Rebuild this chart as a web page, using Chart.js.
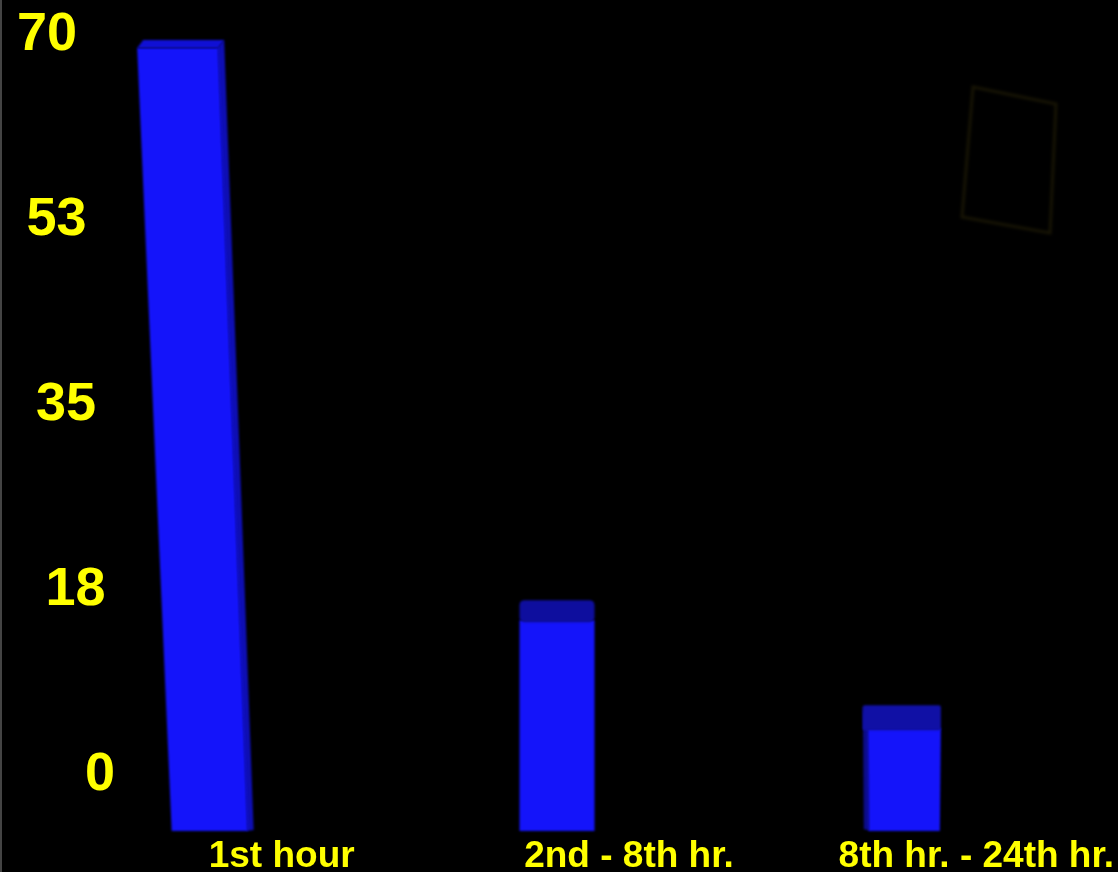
<!DOCTYPE html>
<html>
<head>
<meta charset="utf-8">
<script src="https://cdn.jsdelivr.net/npm/chart.js@4/dist/chart.umd.min.js"></script>
<style>
  html, body { margin: 0; padding: 0; background: #000; overflow: hidden; }
  #wrap { width: 1118px; height: 872px; position: relative; background: #000; }
  canvas { display: block; }
</style>
</head>
<body>
<div id="wrap"><canvas id="chart" width="1118" height="872"></canvas></div>
<script>
// ---- data ----
const categories = ['1st hour', '2nd - 8th hr.', '8th hr. - 24th hr.'];
const values = [70, 20, 10];
const tickValues = [0, 17.5, 35, 52.5, 70];
const tickLabels = ['0', '18', '35', '53', '70'];

// ---- look ----
const YELLOW = '#FFFF00';
const FONT_FAMILY = '"Liberation Sans", Arial, Helvetica, sans-serif';
const FRONT = 'rgb(20,20,250)';
// per-bar perspective: lean = shift of the top relative to the base,
// spread = extra width at the top, wAdj = width tweak of the front face,
// depth = height of the top face, drop = share of it below the value line,
// back = sideways shift of the back edge
const perspective = [
  { lean: -32, spread: 5, wAdj: 0,  depth: 8,  drop: 0.5,  back: 6,  top: 'rgb(16,16,212)', side: 'rgb(14,14,180)', round: 0 },
  { lean: 0,   spread: 0, wAdj: -1, depth: 20, drop: 0.7,  back: 0,  top: 'rgb(14,14,158)', side: 'rgb(12,12,150)', round: 5 },
  { lean: 0,   spread: 2, wAdj: -5, depth: 23, drop: 0.42, back: -5, top: 'rgb(16,16,165)', side: 'rgb(12,12,140)', round: 2 }
];

function poly(ctx, pts, fill) {
  ctx.beginPath();
  ctx.moveTo(pts[0][0], pts[0][1]);
  for (let i = 1; i < pts.length; i++) ctx.lineTo(pts[i][0], pts[i][1]);
  ctx.closePath();
  ctx.fillStyle = fill;
  ctx.fill();
}

// draws the bars as blocks with a top face and a visible side
const blockBars = {
  id: 'blockBars',
  beforeDatasetDraw(chart, args) {
    const ctx = chart.ctx;
    const meta = args.meta;
    ctx.save();
    ctx.filter = 'blur(0.8px)';
    meta.data.forEach((el, i) => {
      const p = perspective[i];
      const { x, y, base, width } = el.getProps(['x', 'y', 'base', 'width'], true);
      const hb = (width + p.wAdj) / 2;
      const ht = hb + p.spread / 2;
      const xb = x;
      const xt = x + p.lean;
      const frontTop = y + p.depth * p.drop;
      const backTop = frontTop - p.depth;

      // side face
      if (p.back > 0) {
        poly(ctx, [[xt + ht - 1, frontTop], [xt + ht + p.back, backTop], [xb + hb + p.back, base - 1], [xb + hb - 1, base]], p.side);
      } else if (p.back < 0) {
        poly(ctx, [[xt - ht + p.back, backTop], [xt - ht + 1, frontTop], [xb - hb + 1, base], [xb - hb + p.back, base - 2]], p.side);
      }
      // front face
      poly(ctx, [[xt - ht, frontTop], [xt + ht, frontTop], [xb + hb, base], [xb - hb, base]], FRONT);
      // top face
      if (p.round) {
        ctx.beginPath();
        ctx.roundRect(xt - ht + Math.min(p.back, 0), backTop, 2 * ht + Math.abs(p.back), p.depth + 2, p.round);
        ctx.fillStyle = p.top;
        ctx.fill();
      } else {
        poly(ctx, [[xt - ht + p.back, backTop], [xt + ht + p.back, backTop], [xt + ht, frontTop], [xt - ht, frontTop]], p.top);
      }
    });
    ctx.restore();
    return false;
  }
};

// value labels on a slanted left axis, placed with the 'yl' scale
const slantAxis = {
  id: 'slantAxis',
  beforeDraw(chart) {
    // faint outline in the top right of the backdrop
    const ctx = chart.ctx;
    ctx.save();
    ctx.filter = 'blur(1.5px)';
    ctx.strokeStyle = 'rgba(46,39,7,0.5)';
    ctx.lineWidth = 3;
    ctx.beginPath();
    ctx.moveTo(973, 87);
    ctx.lineTo(1056, 104);
    ctx.lineTo(1050, 233);
    ctx.lineTo(962, 217);
    ctx.closePath();
    ctx.stroke();
    ctx.restore();
  },
  afterDraw(chart) {
    const ctx = chart.ctx;
    const yl = chart.scales.yl;
    ctx.save();
    // thin frame line on the left edge
    ctx.fillStyle = '#444';
    ctx.fillRect(0, 0, 2, chart.height);
    ctx.font = 'bold 54px ' + FONT_FAMILY;
    ctx.fillStyle = YELLOW;
    ctx.textAlign = 'right';
    ctx.textBaseline = 'middle';
    const yZero = yl.getPixelForValue(0);
    tickValues.forEach((v, i) => {
      const py = yl.getPixelForValue(v);
      const px = 115 - (yZero - py) * 0.0514;
      ctx.fillText(tickLabels[i], px, py);
    });
    ctx.restore();
  }
};

new Chart(document.getElementById('chart'), {
  type: 'bar',
  data: {
    labels: categories,
    datasets: [{
      data: values,
      backgroundColor: FRONT,
      barThickness: 76,
      yAxisID: 'y'
    }]
  },
  options: {
    responsive: false,
    animation: false,
    devicePixelRatio: 1,
    layout: { padding: { left: 36, right: 40, top: 44, bottom: 0 } },
    plugins: {
      legend: { display: false },
      tooltip: { enabled: false }
    },
    scales: {
      x: {
        type: 'category',
        offset: true,
        grid: { display: false, drawTicks: false },
        border: { display: false },
        afterFit(scale) { scale.height = 41; },
        ticks: {
          color: YELLOW,
          font: { family: FONT_FAMILY, weight: 'bold', size: 37, lineHeight: 1 },
          labelOffset: 72,
          padding: 7,
          maxRotation: 0,
          autoSkip: false
        }
      },
      y: {
        display: false,
        min: 0,
        max: 70
      },
      yl: {
        type: 'linear',
        display: false,
        position: 'left',
        min: -5.30,
        max: 69.15
      }
    }
  },
  plugins: [blockBars, slantAxis]
});
</script>
</body>
</html>
